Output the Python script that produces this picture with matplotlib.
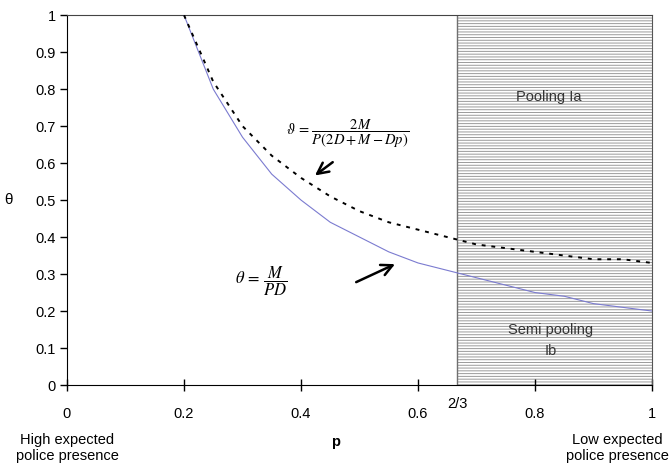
import numpy as np
import matplotlib
matplotlib.use("Agg")
import matplotlib.pyplot as plt

# values
p_vals = [0.2, 0.25, 0.3, 0.35, 0.4, 0.45, 0.5, 0.55, 0.6, 0.65,
          0.7, 0.75, 0.8, 0.85, 0.9, 0.95, 1.0]
theta_semi = [1.0, 0.8, 0.67, 0.57, 0.5, 0.44, 0.4, 0.36, 0.33, 0.31,
              0.29, 0.27, 0.25, 0.24, 0.22, 0.21, 0.2]
theta_pool = [1.0, 0.82, 0.7, 0.62, 0.56, 0.51, 0.47, 0.44, 0.42, 0.4,
              0.38, 0.37, 0.36, 0.35, 0.34, 0.34, 0.33]
x_ticks = [0, 0.2, 0.4, 0.6, 0.8, 1]
x_ticklabels = ["0", "0.2", "0.4", "0.6", "0.8", "1"]
y_ticks = [0, 0.1, 0.2, 0.3, 0.4, 0.5, 0.6, 0.7, 0.8, 0.9, 1]
y_ticklabels = ["0", "0.1", "0.2", "0.3", "0.4", "0.5", "0.6", "0.7", "0.8", "0.9", "1"]
boundary = 2 / 3

plt.rcParams['font.family'] = ['Liberation Sans', 'DejaVu Sans']
plt.rcParams['mathtext.fontset'] = 'stix'
plt.rcParams['hatch.linewidth'] = 0.7

fig = plt.figure(figsize=(6.72, 4.73), dpi=100)
ax = fig.add_axes([0.0997, 0.186, 0.8706, 0.782])

# hatched region (pooling / semi pooling)
ax.axvspan(boundary, 1, facecolor='white', edgecolor='#9a9a9a', hatch='------',
           linewidth=0, zorder=0)
ax.axvline(boundary, color='#707070', lw=1.0, zorder=1)

# curves
ax.plot(p_vals, theta_semi, color='#7b7bd0', lw=0.8, zorder=3)
ax.plot(p_vals, theta_pool, color='black', lw=1.4, linestyle=(0, (2, 3)), zorder=4)

ax.set_xlim(0, 1)
ax.set_ylim(0, 1)
ax.set_xticks(x_ticks)
ax.set_xticklabels(x_ticklabels, fontsize=10.5)
ax.set_yticks(y_ticks)
ax.set_yticklabels(y_ticklabels, fontsize=10.5)
ax.tick_params(axis='x', direction='inout', length=8, width=1, pad=12)
ax.tick_params(axis='y', direction='out', length=5, width=1, pad=3)

ax.spines['right'].set_linestyle((0, (1, 1)))
ax.spines['right'].set_color('#555555')
ax.spines['top'].set_color('#444444')
ax.spines['top'].set_linewidth(0.8)

ax.text(boundary, -0.05, "2/3", ha='center', va='center', fontsize=10.5, clip_on=False)

ax.set_ylabel("θ", rotation=0, fontsize=11, va='center')
ax.yaxis.set_label_coords(-0.1, 0.5)
ax.set_xlabel("p", fontsize=10.5, fontweight='bold')
ax.xaxis.set_label_coords(0.459, -0.135)

ax.text(0.0, -0.17, "High expected\npolice presence", ha='center', va='center',
        fontsize=10.5, transform=ax.transAxes, clip_on=False)
ax.text(0.94, -0.17, "Low expected\npolice presence", ha='center', va='center',
        fontsize=10.5, transform=ax.transAxes, clip_on=False)

# region labels
ax.text(0.824, 0.778, "Pooling Ia", ha='center', va='center', fontsize=10.5, color='#333333')
ax.text(0.827, 0.12, "Semi pooling\nIb", ha='center', va='center', fontsize=10.5,
        color='#333333', linespacing=1.6)

# formulas and arrows
ax.text(0.375, 0.68, r"$\vartheta\,=\,\dfrac{2M}{P(2D+M-Dp)}$", ha='left', va='center',
        fontsize=10.5)
ax.annotate("", xy=(0.42, 0.562), xytext=(0.458, 0.607),
            arrowprops=dict(arrowstyle='->', color='black', lw=1.8, mutation_scale=20))
ax.text(0.288, 0.28, r"$\theta\,=\,\dfrac{M}{PD}$", ha='left', va='center', fontsize=12)
ax.annotate("", xy=(0.565, 0.33), xytext=(0.49, 0.275),
            arrowprops=dict(arrowstyle='->', color='black', lw=1.8, mutation_scale=20))

fig.savefig("out.png", dpi=100)
